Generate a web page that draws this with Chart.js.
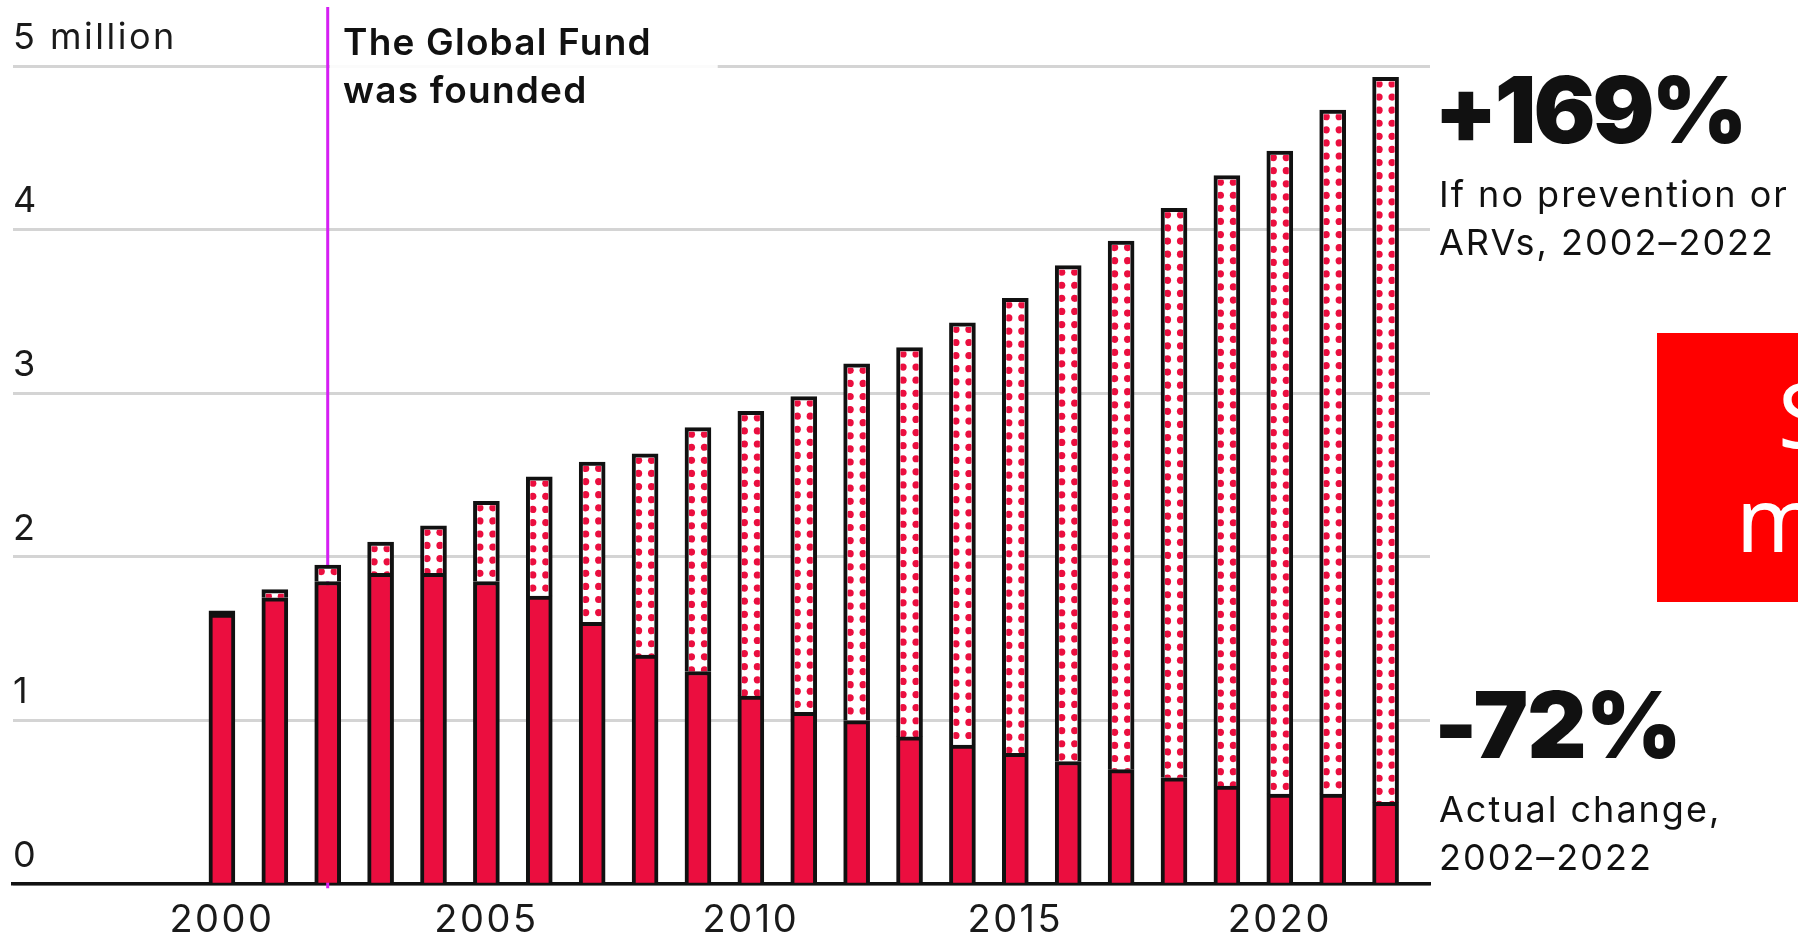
<!DOCTYPE html>
<html>
<head>
<meta charset="utf-8">
<title>HIV infections</title>
<script src="https://cdn.jsdelivr.net/npm/chart.js@4.4.1/dist/chart.umd.min.js"></script>
<style>
  html, body { margin: 0; padding: 0; background: #fff; overflow: hidden; }
  #wrap { position: relative; width: 1798px; height: 939px; overflow: hidden; font-family: Inter, "Noto Sans", sans-serif; color: #111; }
  #chart { position: absolute; left: 0; top: 0; }
  .note { position: absolute; white-space: nowrap; }
  .founded { left: 343px; top: 18px; font-size: 37px; font-weight: 600; line-height: 48px; letter-spacing: 1.2px; }
  .big { left: 1434px; font-size: 92px; font-weight: 900; line-height: 92px; letter-spacing: -3px; }
  .sub { left: 1439px; font-size: 36px; font-weight: 400; line-height: 48px; letter-spacing: 2px; }
  .promo { position: absolute; left: 1657px; top: 333px; width: 300px; height: 269px; background: #ff0000; color: #fff;
           font-family: "Noto Sans", sans-serif; font-size: 90px; line-height: 90px; overflow: hidden; }
  .promo span { position: absolute; white-space: nowrap; }
</style>
</head>
<body>
<div id="wrap">
  <canvas id="chart" width="1798" height="956"></canvas>
  <div class="note founded">The Global Fund<br>was founded</div>
  <div class="note big" style="top:64px">+169%</div>
  <div class="note sub" style="top:170px">If no prevention or<br>ARVs, 2002–2022</div>
  <div class="note big" style="top:679px; letter-spacing:-1px">-72%</div>
  <div class="note sub" style="top:785px">Actual change,<br>2002–2022</div>
  <div class="promo"><span style="left:121px; top:35px">S</span><span style="left:79px; top:139px">m</span></div>
</div>
<script>
// new HIV infections, millions
const years = [2000, 2001, 2002, 2003, 2004, 2005, 2006, 2007, 2008, 2009, 2010, 2011,
               2012, 2013, 2014, 2015, 2016, 2017, 2018, 2019, 2020, 2021, 2022];
const actualCases = [1.65, 1.75, 1.85, 1.90, 1.90, 1.85, 1.76, 1.60, 1.40, 1.30, 1.15, 1.05,
                     1.00, 0.90, 0.85, 0.80, 0.75, 0.70, 0.65, 0.60, 0.55, 0.55, 0.50];
const noPreventionCases = [1.67, 1.80, 1.95, 2.09, 2.19, 2.34, 2.49, 2.58, 2.63, 2.79, 2.89, 2.98,
                           3.18, 3.28, 3.43, 3.58, 3.78, 3.93, 4.13, 4.33, 4.48, 4.73, 4.93];
const xTickYears = [2000, 2005, 2010, 2015, 2020];
const yTickValues = [0, 1, 2, 3, 4, 5];
const yTickLabels = ['0', '1', '2', '3', '4', '5 million'];
const foundedYear = 2002;

const red = '#eb0e3f';
const ink = '#111';

// the gap between the two series is what the dotted part shows
const extraCases = noPreventionCases.map((v, i) => +(v - actualCases[i]).toFixed(3));

// the tick font in the original is wider than anything installed
const spacing = {
  id: 'spacing',
  beforeLayout(chart) { chart.ctx.letterSpacing = '2.5px'; },
  beforeDraw(chart) { chart.ctx.letterSpacing = '2.5px'; }
};

const foundedLine = {
  id: 'foundedLine',
  beforeDatasetsDraw(chart) {
    const ctx = chart.ctx;
    const x = chart.scales.x.getPixelForValue(foundedYear);
    ctx.save();
    ctx.fillStyle = 'rgba(255,255,255,0.9)';
    ctx.fillRect(x + 2, 14, 388, 92);
    ctx.strokeStyle = '#d51ff3';
    ctx.lineWidth = 3;
    ctx.beginPath();
    ctx.moveTo(x, 7);
    ctx.lineTo(x, chart.chartArea.bottom + 4);
    ctx.stroke();
    ctx.restore();
  }
};

const dots = {
  id: 'dots',
  afterDatasetDraw(chart, args) {
    if (args.index !== 1) return;
    const ctx = chart.ctx;
    args.meta.data.forEach(bar => {
      const { x, y, base, width } = bar.getProps(['x', 'y', 'base', 'width'], true);
      const left = x - width / 2 + 4, right = x + width / 2 - 4;
      const top = y + 4;
      if (base - top <= 0) return;
      ctx.save();
      ctx.beginPath();
      ctx.rect(left, top, right - left, base - top);
      ctx.clip();
      ctx.fillStyle = red;
      for (let cy = y + 6.5; cy < base + 3; cy += 13.1) {
        [x - width / 2 + 6.5, x + width / 2 - 6.5].forEach(cx => {
          ctx.beginPath();
          ctx.arc(cx, cy, 3.6, 0, Math.PI * 2);
          ctx.fill();
        });
      }
      ctx.restore();
    });
  }
};

new Chart(document.getElementById('chart'), {
  type: 'bar',
  data: {
    datasets: [{
      label: 'Actual',
      data: years.map((yr, i) => ({ x: yr, y: actualCases[i] })),
      backgroundColor: red,
      borderColor: ink,
      borderWidth: 4,
      barThickness: 26
    }, {
      label: 'If no prevention or ARVs',
      data: years.map((yr, i) => ({ x: yr, y: extraCases[i] })),
      // a sliver too thin to show its white inside just reads as outline
      backgroundColor: c => (c.raw && c.raw.y < 0.05 ? ink : '#fff'),
      borderColor: ink,
      borderWidth: 4,
      barThickness: 26
    }]
  },
  options: {
    responsive: false,
    animation: false,
    layout: { padding: { left: 13, right: 368, top: 66, bottom: 0 } },
    plugins: { legend: { display: false }, tooltip: { enabled: false } },
    scales: {
      x: {
        type: 'linear',
        stacked: true,
        offset: false,
        min: 1996.05,
        max: 2022.84,
        afterBuildTicks: s => { s.ticks = xTickYears.map(v => ({ value: v })); },
        grid: { display: false, drawTicks: false },
        border: { display: true, color: ink, width: 3.5 },
        ticks: {
          padding: 15,
          color: '#1a1a1a',
          font: { family: 'Inter', size: 38, lineHeight: 1.1 },
          callback: v => String(v),
          maxRotation: 0
        }
      },
      y: {
        stacked: true,
        min: 0,
        max: 5,
        afterBuildTicks: s => { s.ticks = yTickValues.map(v => ({ value: v })); },
        afterFit: s => { s.paddingTop = 0; s.paddingBottom = 0; },
        grid: { color: '#d4d4d4', lineWidth: 3, drawTicks: false },
        border: { display: false },
        ticks: {
          mirror: true,
          padding: 0,
          labelOffset: -28,
          color: '#1a1a1a',
          font: { family: 'Inter', size: 36 },
          callback: (v, i) => yTickLabels[i]
        }
      }
    }
  },
  plugins: [spacing, foundedLine, dots]
});
</script>
</body>
</html>
